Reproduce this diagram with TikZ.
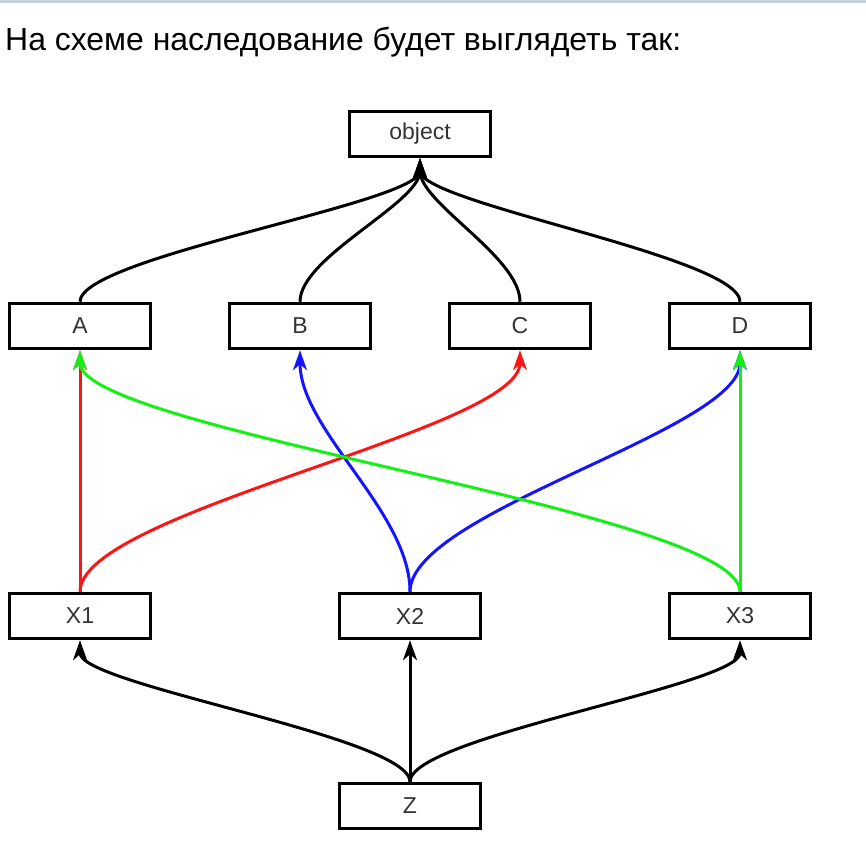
\documentclass[tikz,border=0pt]{standalone}
\usepackage{fontspec}
\setmainfont{Liberation Sans}
\usetikzlibrary{arrows.meta}
\definecolor{topline}{RGB}{200,210,222}
\definecolor{lred}{RGB}{255,20,20}
\definecolor{lgreen}{RGB}{20,240,20}
\definecolor{lblue}{RGB}{20,20,255}
\begin{document}
\begin{tikzpicture}[x=1pt,y=-1pt]
\def\l{20pt}
\def\w{14pt}
\def\lw{3pt}
\tikzset{cls/.style={draw,black,line width=3.5pt,minimum width=141pt,minimum height=45pt,inner sep=0pt,text=black!80,font=\fontsize{23}{23}\selectfont}}
\useasboundingbox (0,0) rectangle (866,858);
\fill [topline] (0,0) rectangle (866,3);
\node [anchor=base west, inner sep=0pt, name=title] at (5,51) {\resizebox{676pt}{!}{\fontsize{28}{28}\selectfont На схеме наследование будет выглядеть так:}};

\node [cls, name=obj] at (420,134) {object};
\node [cls, name=a]   at (80,326)  {A};
\node [cls, name=b]   at (300,326) {B};
\node [cls, name=c]   at (520,326) {C};
\node [cls, name=d]   at (740,326) {D};
\node [cls, name=x1]  at (80,616)  {X1};
\node [cls, name=x2]  at (410,616) {X2};
\node [cls, name=x3]  at (740,616) {X3};
\node [cls, name=z]   at (410,806) {Z};
%\draw [red] (0,0) rectangle (866,858);
\draw [-{Stealth[length=\l, width=\w, inset=6pt]}, line width=\lw](a.north) .. controls +(0,-45) and +(0,45) .. (obj.south);
\draw [-{Stealth[length=\l, width=\w, inset=6pt]}, line width=\lw](b.north) .. controls +(0,-45) and +(0,45) .. (obj.south);
\draw [-{Stealth[length=\l, width=\w, inset=6pt]}, line width=\lw](c.north) .. controls +(0,-45) and +(0,45) .. (obj.south);
\draw [-{Stealth[length=\l, width=\w, inset=6pt]}, line width=\lw](d.north) .. controls +(0,-45) and +(0,45) .. (obj.south);
\draw [-{Stealth[length=\l, width=\w, inset=6pt]}, line width=\lw, lred](x1.north) to (a.south);
\draw [-{Stealth[length=\l, width=\w, inset=6pt]}, line width=\lw, lred](x1.north) .. controls +(0,-80) and +(0,80) .. (c.south);
\draw [-{Stealth[length=\l, width=\w, inset=6pt]}, line width=\lw, lblue](x2.north) .. controls +(0,-80) and +(0,80) .. (b.south);
\draw [-{Stealth[length=\l, width=\w, inset=6pt]}, line width=\lw, lblue](x2.north) .. controls +(0,-80) and +(0,80) .. (d.south);
\draw [-{Stealth[length=\l, width=\w, inset=6pt]}, line width=\lw, lgreen](x3.north) .. controls +(0,-80) and +(0,80) .. (a.south);
\draw [-{Stealth[length=\l, width=\w, inset=6pt]}, line width=\lw, lgreen](x3.north) to (d.south);
\draw [-{Stealth[length=\l, width=\w, inset=6pt]}, line width=\lw](z.north) .. controls +(0,-45) and +(0,45) .. (x1.south);
\draw [-{Stealth[length=\l, width=\w, inset=6pt]}, line width=\lw](z.north) to (x2.south);
\draw [-{Stealth[length=\l, width=\w, inset=6pt]}, line width=\lw](z.north) .. controls +(0,-45) and +(0,45) .. (x3.south);
\end{tikzpicture}
\end{document}
